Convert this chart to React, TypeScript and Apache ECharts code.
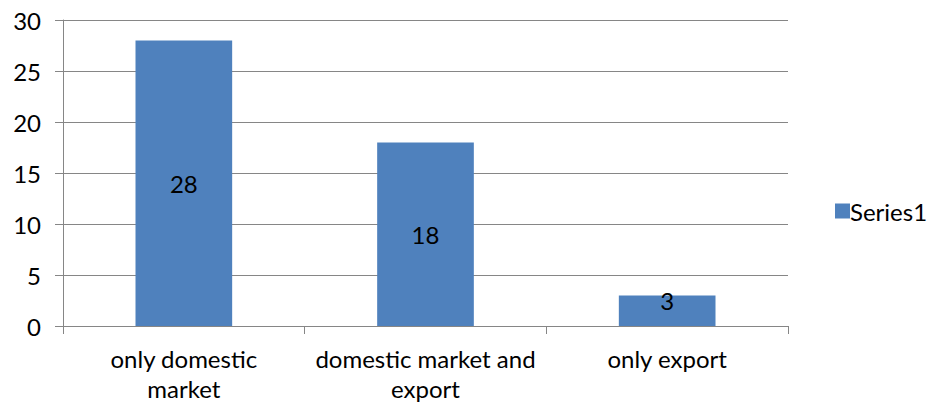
import React, { useEffect, useRef } from "react";
import * as echarts from "echarts";

const categories = ["only domestic\nmarket", "domestic market and\nexport", "only export"];
const seriesName = "Series1";
const values = [28, 18, 3];
const yTicks = { min: 0, max: 30, interval: 5 };

const FONT = "Lato";
const FS = 24;

export default function App() {
  const ref = useRef<HTMLDivElement>(null);
  useEffect(() => {
    if (!ref.current) return;
    const chart = echarts.init(ref.current, undefined, { renderer: "svg" });
    chart.setOption({
      animation: false,
      textStyle: { fontFamily: FONT },
      grid: { left: 63, right: 139, top: 20, bottom: 79, containLabel: false },
      legend: {
        data: [seriesName],
        orient: "vertical",
        left: 830,
        top: 194,
        itemWidth: 15,
        itemHeight: 15,
        itemGap: 4,
        icon: "rect",
        textStyle: { fontFamily: FONT, fontSize: FS, color: "#000", padding: [0, 0, 0, -5] },
      },
      xAxis: {
        type: "category",
        data: categories,
        axisLine: { lineStyle: { color: "#868686", width: 1 } },
        axisTick: { show: true, length: 8, alignWithLabel: false, lineStyle: { color: "#868686" } },
        axisLabel: {
          interval: 0,
          margin: 17,
          fontFamily: FONT,
          fontSize: FS,
          lineHeight: 30,
          color: "#000",
        },
      },
      yAxis: {
        type: "value",
        min: yTicks.min,
        max: yTicks.max,
        interval: yTicks.interval,
        axisLine: { show: true, lineStyle: { color: "#868686", width: 1 } },
        axisTick: { show: true, length: 8, lineStyle: { color: "#868686" } },
        splitLine: { show: true, lineStyle: { color: "#868686", width: 1 } },
        axisLabel: { margin: 22, fontFamily: FONT, fontSize: FS, color: "#000" },
      },
      series: [
        {
          name: seriesName,
          type: "bar",
          barWidth: "40%",
          data: values.map((v) =>
            v < 5
              ? { value: v, label: { position: "inside", offset: [0, -10] } }
              : v
          ),
          itemStyle: { color: "#4F81BD" },
          label: {
            show: true,
            position: "inside",
            fontFamily: FONT,
            fontSize: FS,
            color: "#000",
          },
        },
      ],
    });
    return () => chart.dispose();
  }, []);
  return <div ref={ref} style={{ width: 927, height: 405, position: "absolute", left: 0, top: 0, background: "#fff" }} />;
}
